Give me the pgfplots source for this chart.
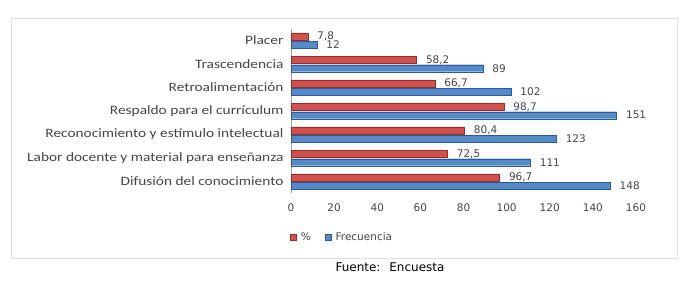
\documentclass[border=0pt]{standalone}
\usepackage{fontspec}
\setmainfont{DejaVu Sans}
\newfontfamily\catfont[FakeStretch=1.2]{Carlito}
\usepackage{pgfplots}
\pgfplotsset{compat=1.18}
\definecolor{redD}{RGB}{150,45,42}
\definecolor{redF}{RGB}{208,82,78}
\definecolor{bluD}{RGB}{45,90,150}
\definecolor{bluF}{RGB}{85,138,200}
\definecolor{txt}{RGB}{70,70,70}
\begin{document}
\begin{tikzpicture}[x=1pt,y=1pt]
\path (0,0) rectangle (687,287);
\draw[gray!25,line width=0.8pt] (11,29) rectangle (677,269);
\begin{axis}[
  at={(291pt,93.75pt)}, anchor=south west,
  scale only axis, width=345pt, height=164.5pt,
  xmin=0, xmax=160, ymin=-0.5, ymax=6.5,
  xtick={0,20,...,160},
  ytick={0,...,6},
  yticklabels={Difusión del conocimiento,Labor docente y material para enseñanza,Reconocimiento y estímulo intelectual,Respaldo para el currículum,Retroalimentación,Trascendencia,Placer},
  yticklabel style={font=\catfont\fontsize{12.8}{13}\selectfont, text=txt, xshift=-4pt},
  xticklabel style={font=\fontsize{10.5}{12}\selectfont, text=txt, yshift=-7pt},
  /pgf/number format/assume math mode=true,
  major tick length=0pt,
  axis lines*=left,
  x axis line style={draw=none},
  y axis line style={draw=gray!70},
  xbar, bar width=7pt,
  point meta=explicit symbolic,
  nodes near coords={\pgfplotspointmeta},
  nodes near coords style={font=\fontsize{10.5}{12}\selectfont, text=txt, anchor=west, xshift=6pt},
  legend style={at={(-0.012,-0.266)}, anchor=west, draw=none, fill=none, font=\fontsize{10.5}{12}\selectfont\color{txt}, legend columns=2, column sep=2pt, /tikz/every even column/.append style={column sep=12pt}},
  legend image code/.code={\draw[#1] (0pt,-3.2pt) rectangle (6.4pt,3.2pt);},
]
\addplot[bar shift=4.2pt, draw=redD, line width=0.4pt, fill=redF] coordinates {
(96.7,0) [96,7]
(72.5,1) [72,5]
(80.4,2) [80,4]
(98.7,3) [98,7]
(66.7,4) [66,7]
(58.2,5) [58,2]
(7.8,6) [7,8]
};
\addplot[bar shift=-4.2pt, draw=bluD, line width=0.4pt, fill=bluF] coordinates {
(148,0) [148]
(111,1) [111]
(123,2) [123]
(151,3) [151]
(102,4) [102]
(89,5) [89]
(12,6) [12]
};
\legend{\%,Frecuencia}
\end{axis}
\node[font=\fontsize{12}{14}\selectfont, text=black] at (390,20) {Fuente:~ Encuesta};
\end{tikzpicture}
\end{document}
